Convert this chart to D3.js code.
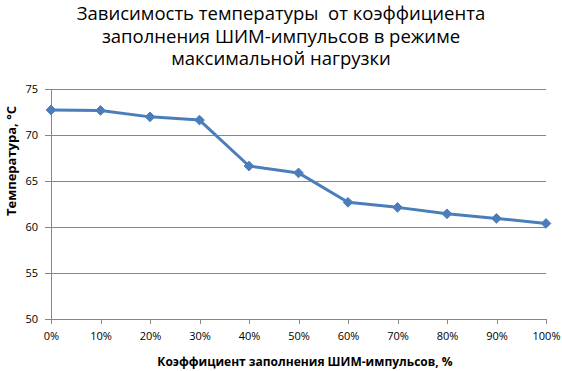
<!DOCTYPE html>
<html><head><meta charset="utf-8">
<script src="https://cdn.jsdelivr.net/npm/d3@7"></script>
<style>body{margin:0;background:#fff}</style>
</head><body>
<svg id="c" width="562" height="371"></svg>
<script>
const categories = ["0%","10%","20%","30%","40%","50%","60%","70%","80%","90%","100%"];
const temperature = [72.75, 72.7, 72.0, 71.65, 66.65, 65.9, 62.7, 62.15, 61.45, 60.95, 60.4];
const yTicks = [50, 55, 60, 65, 70, 75];
const titleLines = ["Зависимость температуры  от коэффициента", "заполнения ШИМ-импульсов в режиме", "максимальной нагрузки"];
const xTitle = "Коэффициент заполнения ШИМ-импульсов, %";
const yTitle = "Температура, °С";

const svg = d3.select("#c");
const font = "'Open Sans', 'Liberation Sans', sans-serif";
const L = 51, R = 546, T = 89.3, B = 319;
const x = d3.scalePoint().domain(categories).range([L, R]);
const y = d3.scaleLinear().domain([50, 75]).range([B, T]);

// gridlines
svg.append("g").selectAll("line").data(yTicks.filter(d => d > 50)).join("line")
  .attr("x1", L).attr("x2", R).attr("y1", d => y(d)).attr("y2", d => y(d))
  .attr("stroke", "#868686").attr("stroke-width", 1).attr("shape-rendering", "crispEdges");

// y axis
const ya = svg.append("g").attr("transform", `translate(${L},0)`)
  .call(d3.axisLeft(y).tickValues(yTicks).tickSize(6).tickPadding(7).tickFormat(d3.format("d")));
ya.select(".domain").attr("stroke", "#868686").attr("d", `M-0,${B}V${T}`);
ya.selectAll(".tick line").attr("stroke", "#868686");
ya.selectAll("text").attr("font-family", font).attr("font-size", 11).attr("fill", "#000");

// x axis
const xa = svg.append("g").attr("transform", `translate(0,${B})`)
  .call(d3.axisBottom(x).tickSize(5).tickPadding(8));
xa.select(".domain").attr("stroke", "#868686").attr("d", `M${L},0H${R}`);
xa.selectAll(".tick line").attr("stroke", "#868686");
xa.selectAll("text").attr("font-family", font).attr("font-size", 11).attr("fill", "#000");

svg.selectAll(".domain, .tick line").attr("shape-rendering", "crispEdges");

// line
svg.append("path").datum(temperature)
  .attr("fill", "none").attr("stroke", "#4A7EBB").attr("stroke-width", 3).attr("stroke-linejoin", "round")
  .attr("d", d3.line().x((d, i) => x(categories[i])).y(d => y(d)));

// markers
svg.append("g").selectAll("path").data(temperature).join("path")
  .attr("transform", (d, i) => `translate(${x(categories[i])},${y(d)})`)
  .attr("d", d3.symbol(d3.symbolDiamond2, 60)())
  .attr("fill", "#4A7EBB").attr("stroke", "#4A7EBB").attr("stroke-width", 1);

// title
svg.append("g").selectAll("text").data(titleLines).join("text")
  .attr("x", 281).attr("y", (d, i) => 20 + i * 22.5)
  .attr("text-anchor", "middle").attr("font-family", font).attr("font-size", 18.5).attr("fill", "#000")
  .style("white-space", "pre").attr("xml:space", "preserve")
  .text(d => d);

// axis titles
svg.append("text").attr("x", 305).attr("y", 366).attr("text-anchor", "middle")
  .attr("font-family", font).attr("font-size", 12).attr("font-weight", "bold").text(xTitle);
svg.append("text").attr("transform", "translate(16,161) rotate(-90)").attr("text-anchor", "middle")
  .attr("font-family", font).attr("font-size", 13).attr("font-weight", "bold").text(yTitle);
</script>
</body></html>
